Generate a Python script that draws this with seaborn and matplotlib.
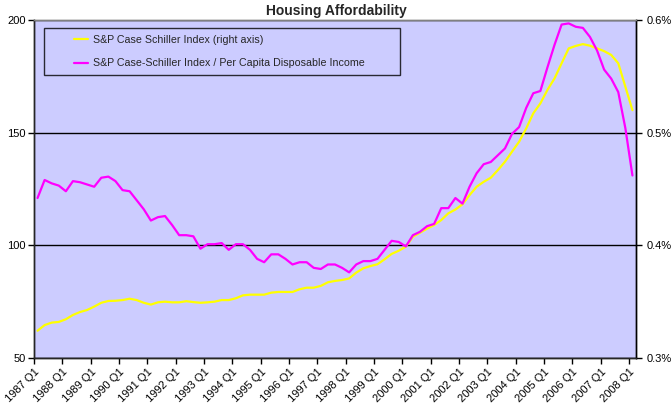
import numpy as np
import pandas as pd
import matplotlib
matplotlib.use("Agg")
import matplotlib.pyplot as plt
from matplotlib.legend_handler import HandlerLine2D
import seaborn as sns

# quarterly data, 1987 Q1 .. 2008 Q1
years = list(range(1987, 2009))
tickLabels = [f"{y} Q1" for y in years]

caseShiller = [
    62.1, 64.6, 65.7, 66.0, 67.2, 69.1, 70.4, 71.3, 72.8, 74.5,
    75.3, 75.4, 75.7, 76.3, 75.7, 74.5, 73.7, 74.7, 75.0, 74.7,
    74.7, 75.2, 74.8, 74.5, 74.7, 75.0, 75.7, 75.7, 76.5, 77.8,
    78.1, 78.1, 78.1, 79.0, 79.3, 79.3, 79.3, 80.5, 81.2, 81.2,
    82.0, 83.6, 84.2, 84.6, 85.3, 87.9, 89.8, 90.8, 91.6, 93.8,
    96.2, 97.6, 99.4, 103.8, 105.6, 107.4, 109.0, 111.2, 114.2, 115.9,
    118.2, 122.3, 126.0, 128.2, 130.0, 133.4, 137.1, 141.6, 146.0, 151.9,
    158.6, 163.0, 169.0, 174.1, 180.8, 187.4, 188.5, 189.3, 188.6, 187.4,
    186.2, 184.5, 180.8, 170.4, 160.0,
]

# index / per capita disposable income, in percent
ratioPct = [
    0.442, 0.458, 0.455, 0.453, 0.448, 0.457, 0.456, 0.454, 0.452, 0.460,
    0.461, 0.457, 0.449, 0.448, 0.440, 0.432, 0.422, 0.425, 0.426, 0.418,
    0.409, 0.409, 0.408, 0.397, 0.401, 0.401, 0.402, 0.396, 0.401, 0.401,
    0.396, 0.388, 0.385, 0.392, 0.392, 0.388, 0.383, 0.385, 0.385, 0.380,
    0.379, 0.383, 0.383, 0.380, 0.376, 0.383, 0.386, 0.386, 0.388, 0.396,
    0.404, 0.403, 0.399, 0.409, 0.412, 0.417, 0.419, 0.433, 0.433, 0.442,
    0.437, 0.452, 0.464, 0.472, 0.474, 0.480, 0.486, 0.499, 0.505, 0.522,
    0.535, 0.537, 0.558, 0.578, 0.596, 0.597, 0.594, 0.593, 0.585, 0.573,
    0.556, 0.548, 0.536, 0.504, 0.462,
]

quarter = np.arange(len(caseShiller))
df = pd.DataFrame({"q": quarter, "index": caseShiller, "ratio": ratioPct})

sns.set_style("ticks")
plt.rcParams["font.family"] = ["Liberation Sans", "DejaVu Sans"]
plt.rcParams["font.size"] = 8

fig = plt.figure(figsize=(6.72, 4.11), dpi=100)
ax = fig.add_axes([0.0506, 0.129, 0.8958, 0.8223])
ax.set_facecolor("#CCCCFF")

sns.lineplot(data=df, x="q", y="index", ax=ax, color="#FFFF00", linewidth=1.6,
             label="S&P Case Schiller Index (right axis)", legend=False)
ax2 = ax.twinx()
sns.lineplot(data=df, x="q", y="ratio", ax=ax2, color="#FF00FF", linewidth=1.6,
             label="S&P Case-Schiller Index / Per Capita Disposable Income", legend=False)

ax.set_xlim(-0.5, len(quarter) - 0.5)
ax.set_ylim(50, 200)
ax.set_yticks([50, 100, 150, 200])
ax.grid(axis="y", color="black", linewidth=1)
ax.set_xticks(np.arange(len(years)) * 4 - 0.5)
ax.set_xticklabels(tickLabels, rotation=45, ha="right", rotation_mode="anchor")
ax.set_xlabel("")
ax.set_ylabel("")
ax.tick_params(axis="both", direction="out", length=4, width=1, colors="black", labelsize=8, pad=2)

ax2.set_ylim(0.3, 0.6)
ax2.set_yticks([0.3, 0.4, 0.5, 0.6])
ax2.set_yticklabels(["0.3%", "0.4%", "0.5%", "0.6%"])
ax2.set_ylabel("")
ax2.tick_params(axis="y", direction="out", length=4, width=1, colors="black", labelsize=8, pad=4)

for a in (ax, ax2):
    for s in a.spines.values():
        s.set_linewidth(1)
    a.spines["top"].set_color("#808080")
ax.spines["left"].set_color("black")
ax.spines["bottom"].set_color("black")
ax.spines["right"].set_color("black")
ax2.spines["right"].set_color("black")

h1, l1 = ax.get_legend_handles_labels()
h2, l2 = ax2.get_legend_handles_labels()
leg = ax2.legend(h1 + h2, l1 + l2, loc="upper left",
                 bbox_to_anchor=(0.0166, 0.976 - 0.1361, 0.5914, 0.1361), mode="expand",
                 frameon=True, fancybox=False, fontsize=7.7, handlelength=3.45,
                 handletextpad=0.5, labelspacing=1.25, borderpad=0.65,
                 borderaxespad=0, facecolor="none",
                 handler_map={h: HandlerLine2D(xpad=2.2) for h in h1 + h2})
leg.get_frame().set_edgecolor("black")
leg.get_frame().set_linewidth(1)

fig.text(0.5, 0.973, "Housing Affordability", ha="center", va="center",
         fontsize=10, fontweight="bold")

fig.savefig("out.png", dpi=100, facecolor="white")
